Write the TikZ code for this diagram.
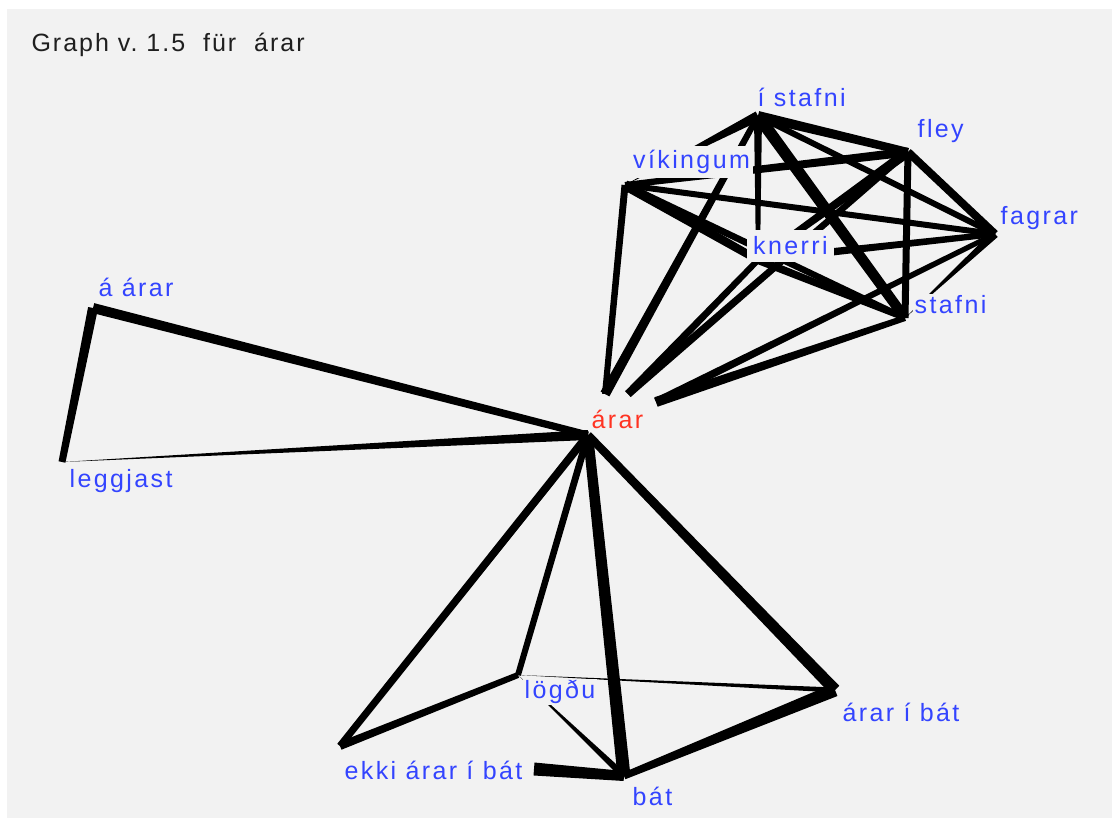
\documentclass[tikz,border=0pt]{standalone}
\usepackage{fontspec}
\setmainfont{Liberation Sans}
\newfontfamily\lblfam[LetterSpace=9.5]{Liberation Sans}
\newfontfamily\ttlfam[LetterSpace=8]{Liberation Sans}
\usetikzlibrary{calc}
\definecolor{bg}{HTML}{F2F2F2}
\definecolor{lblue}{HTML}{3344FF}
\definecolor{lred}{HTML}{FF3322}
% tapered connector: from #1 (half width #3) to #2 (half width #4)
\newcommand\edgew[4]{%
  \fill[black] ($(#1)!#3!90:(#2)$) -- ($(#2)!#4!-90:(#1)$) --
    ($(#2)!#4!90:(#1)$) -- ($(#1)!#3!-90:(#2)$) -- cycle;}
\begin{document}
\begin{tikzpicture}[x=1pt,y=-1pt,
  lbl/.style={font=\lblfam\fontsize{25}{28}\selectfont, text=lblue, fill=bg,
    inner sep=1.5pt, anchor=west}]
\useasboundingbox (0,0) rectangle (1112,818);
\fill[white] (0,0) rectangle (1112,818);
\fill[bg] (7,9) rectangle (1112,818);

% node points
\coordinate (aarar) at (93,308);
\coordinate (legg) at (62,462);
\coordinate (arar) at (588,435);
\coordinate (ararA) at (605,394);
\coordinate (ararB) at (628,394);
\coordinate (ararC) at (656,402);
\coordinate (vik) at (625,185);
\coordinate (ist) at (758,116);
\coordinate (fley) at (908,152);
\coordinate (fagr) at (995,234);
\coordinate (kne) at (758,260);
\coordinate (staf) at (905,318);
\coordinate (logdu) at (518,675);
\coordinate (ekki) at (340,746);
\coordinate (ekkiE) at (534,769);
\coordinate (bat) at (624,776);
\coordinate (aib) at (835,690);

% left
\edgew{aarar}{arar}{5pt}{3.5pt}
\edgew{aarar}{legg}{5pt}{3.5pt}
\edgew{legg}{arar}{0pt}{5pt}
% bottom
\edgew{arar}{logdu}{3.5pt}{3pt}
\edgew{arar}{ekki}{4pt}{3.5pt}
\edgew{arar}{bat}{5pt}{6.5pt}
\edgew{arar}{aib}{4pt}{6pt}
\edgew{logdu}{ekki}{3pt}{4pt}
\edgew{logdu}{bat}{0pt}{3.5pt}
\edgew{logdu}{aib}{0pt}{2.5pt}
\edgew{ekkiE}{bat}{6.5pt}{5pt}
\edgew{bat}{aib}{3.5pt}{6.5pt}
% top cluster
\edgew{ararA}{vik}{3pt}{3.5pt}
\edgew{ararA}{ist}{5pt}{3pt}
\edgew{ararB}{kne}{4pt}{3pt}
\edgew{ararB}{fley}{4pt}{3pt}
\edgew{ararC}{fagr}{4pt}{2.5pt}
\edgew{ararC}{staf}{5pt}{3pt}
\edgew{ist}{fley}{5pt}{4pt}
\edgew{ist}{vik}{5pt}{0pt}
\edgew{ist}{kne}{4pt}{2pt}
\edgew{ist}{fagr}{3pt}{3pt}
\edgew{ist}{staf}{6pt}{5pt}
\edgew{fley}{vik}{4.5pt}{3pt}
\edgew{fley}{kne}{5pt}{3pt}
\edgew{fley}{fagr}{4pt}{4pt}
\edgew{fley}{staf}{3.5pt}{3.5pt}
\edgew{vik}{kne}{5pt}{4pt}
\edgew{vik}{fagr}{3pt}{3pt}
\edgew{vik}{staf}{3.5pt}{3pt}
\edgew{kne}{fagr}{4pt}{3pt}
\edgew{kne}{staf}{4pt}{3pt}
\edgew{fagr}{staf}{4pt}{0pt}

% labels
\node[anchor=west, font=\ttlfam\fontsize{25}{28}\selectfont, text=black!88] (title) at (28,45) {Graph v.\ 1.5\ \ für\ \ árar};
\node[lbl] (aarar-l) at (97,287) {á árar};
\node[lbl] (legg-l) at (68,481) {leggjast};
\node[lbl, text=lred] (arar-l) at (590,419) {árar};
\node[lbl] (logdu-l) at (523,692) {lögðu};
\node[lbl] (ekki-l) at (343,770) {ekki árar í bát};
\node[lbl] (bat-l) at (631,796) {bát};
\node[lbl] (aib-l) at (841,712) {árar í bát};
\node[lbl, inner ysep=4pt, inner xsep=3pt] (vik-l) at (630,162) {víkingum};
\node[lbl] (ist-l) at (756,97) {í stafni};
\node[lbl] (fley-l) at (916,131) {fley};
\node[lbl] (fagr-l) at (999,218) {fagrar};
\node[lbl, inner xsep=6pt, minimum height=32pt] (kne-l) at (747,246) {knerri};
\node[lbl] (staf-l) at (913,305) {stafni};
\end{tikzpicture}
\end{document}
